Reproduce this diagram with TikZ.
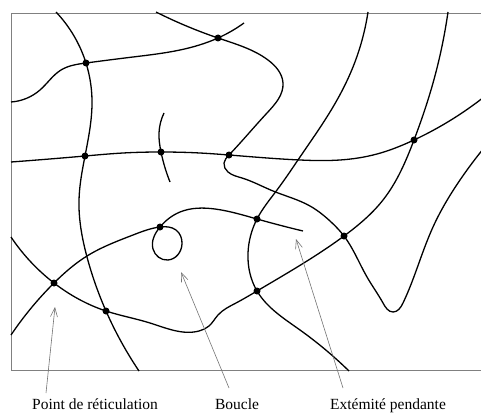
\documentclass[tikz,border=0pt]{standalone}
\usepackage{fontspec}
\setmainfont{Liberation Serif}
\usetikzlibrary{hobby}
\usetikzlibrary{arrows.meta}

\begin{document}
\begin{tikzpicture}[x=1pt, y=-1pt,
  every node/.style={font=\fontsize{15.5}{18}\selectfont},
  dot/.style={circle, fill=black, inner sep=0pt, minimum size=7pt},
  chain/.style={line width=1.3pt, use Hobby shortcut},
  pointer/.style={black!55, line width=0.6pt, -{Straight Barb[length=9pt, width=7pt]}}]

\useasboundingbox (0,0) rectangle (481,412);
\begin{scope}
\clip (0,0) rectangle (481,412);
\draw[black!50, line width=0.9pt] (495,13) -- (11,13) -- (11,370) -- (495,370);

% crosslinks
\node[dot] (p1)  at (218,38)  {};
\node[dot] (p2)  at (86,63)   {};
\node[dot] (p3)  at (85,156)  {};
\node[dot] (p4)  at (161,152) {};
\node[dot] (p5)  at (229,155) {};
\node[dot] (p6)  at (414,140) {};
\node[dot] (p7)  at (160,227) {};
\node[dot] (p8)  at (257,219) {};
\node[dot] (p9)  at (344,236) {};
\node[dot] (p10) at (54,283)  {};
\node[dot] (p11) at (106,311) {};
\node[dot] (p12) at (257,291) {};

% chains
\draw[chain] (56,12) .. (p2.center) .. (92,100) .. (p3.center) .. (79,200)
  .. (87,257) .. (p11.center) .. (139,371);
\draw[chain] (11,102) .. (40,90) .. (61,70) .. (p2.center) .. (133,57)
  .. (180,50) .. (p1.center) .. (244,23);
\draw[chain] (156,12) .. (p1.center) .. (268,60) .. (283,83)
  .. (267,113) .. (p5.center) .. (224,163)
  .. (228,172) .. (242,178) .. (273,191) .. (310,206) .. (330,221)
  .. (p9.center) .. (367,277) .. (383,303) .. (393,312) .. (403,303)
  .. (420,260) .. (433,227) .. (460,180) .. (495,135);
\draw[chain] (11,162) .. (p3.center) .. (123,153) .. (p4.center) .. (200,153)
  .. (p5.center) .. (300,160) .. (340,160) .. (377,154) .. (p6.center)
  .. (495,88);
\draw[chain] (164,113) .. (159,133) .. (p4.center) .. (170,182);
\draw[chain] (368,12) .. (353,67) .. (333,107) .. (300,157) .. (277,190)
  .. (p8.center) .. (248,253) .. (p12.center) .. (300,330) .. (349,371);
\draw[chain] (11,237) .. (p10.center) .. (p11.center) .. (150,323)
  .. (199,331) .. (209,326) .. (218,315) .. (236,303) .. (p12.center)
  .. (p9.center) .. (383,200) .. (p6.center) .. (433,83) .. (448,12);
\draw[chain] (11,335) .. (p10.center) .. (87,256) .. (133,235) .. (p7.center)
  .. (176,230) .. (182,244) .. (168,260) .. (153,249)
  .. (p7.center) .. (180,212) .. (215,209) .. (p8.center) .. (303,231);
\end{scope}

% labels
\node[anchor=base] (lab1) at (95,409)  {Point de réticulation};
\node[anchor=base] (lab2) at (237,409) {Boucle};
\node[anchor=base] (lab3) at (388,409) {Extémité pendante};

\coordinate (s1) at (46,393);
\coordinate (s2) at (229,388);
\coordinate (s3) at (343,388);
\coordinate (t1) at (55,307);
\coordinate (t2) at (181,272);
\coordinate (t3) at (296,239);

\draw[pointer] (s1) -- (t1);
\draw[pointer] (s2) -- (t2);
\draw[pointer] (s3) -- (t3);
\end{tikzpicture}
\end{document}
